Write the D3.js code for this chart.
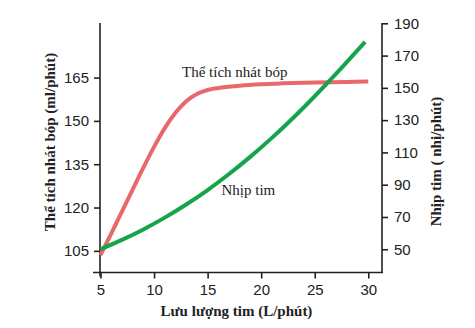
<!DOCTYPE html>
<html><head><meta charset="utf-8">
<script src="https://cdn.jsdelivr.net/npm/d3@7"></script>
<style>
html,body{margin:0;padding:0;background:#fff;}
svg{display:block;}
</style></head>
<body>
<svg id="chart" width="475" height="328"></svg>
<script>
// Data
const xTicks = [5, 10, 15, 20, 25, 30];
const leftTicks = [105, 120, 135, 150, 165];
const rightTicks = [50, 70, 90, 110, 130, 150, 170, 190];
const flowX = [5, 6, 7, 8, 9, 10, 11, 12, 13, 14, 15, 16, 18, 20, 22, 25, 28, 30];
const strokeVolume = [103.5, 111, 118.6, 126.2, 133.8, 141, 147.5, 152.8, 156.8, 159.3, 160.7, 161.4, 162.2, 162.7, 163, 163.3, 163.5, 163.6];
const hrX = [5, 7, 9, 11, 13, 15, 17, 19, 21, 23, 25, 27, 29.7];
const heartRate = [50, 55.8, 62.3, 69.6, 77.7, 86.7, 96.6, 107.4, 119, 131.5, 144.8, 158.8, 178.5];
const xTitle = "Lưu lượng tim (L/phút)";
const leftTitle = "Thể tích nhát bóp (ml/phút)";
const rightTitle = "Nhịp tim ( nhị/phút)";
const svLabel = "Thể tích nhát bóp";
const hrLabel = "Nhịp tim";

const svg = d3.select("#chart");
const axisColor = "#222";
const tickFont = "'Liberation Sans', Arial, sans-serif";
const serif = "'Liberation Serif', 'Times New Roman', serif";

const x = d3.scaleLinear().domain([5, 30]).range([100.5, 368.3]);
const yL = d3.scaleLinear().domain([97.5, 183.9]).range([272.5, 23]);
const yR = d3.scaleLinear().domain([35.6, 190]).range([272.5, 23.3]);
const axisY = 272.5, leftX = 100, rightX = 382;

function styleAxis(g) {
  g.select(".domain").remove();
  g.selectAll(".tick line").attr("stroke", axisColor).attr("stroke-width", 1.6);
  g.selectAll(".tick text").attr("fill", axisColor).style("font-family", tickFont).style("font-size", "15px");
}

// bottom axis
const gx = svg.append("g").attr("transform", `translate(0,${axisY})`)
  .call(d3.axisBottom(x).tickValues(xTicks).tickSize(6).tickPadding(6).tickFormat(d3.format("d")));
styleAxis(gx);
svg.append("line").attr("x1", 93).attr("x2", rightX + 1).attr("y1", axisY).attr("y2", axisY)
  .attr("stroke", axisColor).attr("stroke-width", 1.6);

// left axis
const gl = svg.append("g").attr("transform", `translate(${leftX},0)`)
  .call(d3.axisLeft(yL).tickValues(leftTicks).tickSize(6).tickPadding(5).tickFormat(d3.format("d")));
styleAxis(gl);
svg.append("line").attr("x1", leftX).attr("x2", leftX).attr("y1", 23).attr("y2", axisY + 4)
  .attr("stroke", axisColor).attr("stroke-width", 1.6);

// right axis
const gr = svg.append("g").attr("transform", `translate(${rightX},0)`)
  .call(d3.axisRight(yR).tickValues(rightTicks).tickSize(6).tickPadding(6).tickFormat(d3.format("d")));
styleAxis(gr);
svg.append("line").attr("x1", rightX).attr("x2", rightX).attr("y1", 23).attr("y2", axisY)
  .attr("stroke", axisColor).attr("stroke-width", 1.6);

// lines
const svData = flowX.map((d, i) => [d, strokeVolume[i]]);
const hrData = hrX.map((d, i) => [d, heartRate[i]]);
svg.append("path").datum(svData)
  .attr("d", d3.line().x(d => x(d[0])).y(d => yL(d[1])).curve(d3.curveMonotoneX))
  .attr("fill", "none").attr("stroke", "#e8686c").attr("stroke-width", 4);
svg.append("path").datum(hrData)
  .attr("d", d3.line().x(d => x(d[0])).y(d => yR(d[1])).curve(d3.curveMonotoneX))
  .attr("fill", "none").attr("stroke", "#14a54b").attr("stroke-width", 4);

// labels
svg.append("text").attr("x", 182).attr("y", 77).text(svLabel)
  .style("font-family", serif).style("font-size", "15px").attr("fill", "#222");
svg.append("text").attr("x", 221.5).attr("y", 195).text(hrLabel)
  .style("font-family", serif).style("font-size", "15px").attr("fill", "#222");

// titles
svg.append("text").attr("x", 236.5).attr("y", 316).attr("text-anchor", "middle").text(xTitle)
  .style("font-family", serif).style("font-size", "15px").style("font-weight", "bold").attr("fill", "#222");
svg.append("text").attr("transform", "translate(55,142) rotate(-90)").attr("text-anchor", "middle").text(leftTitle)
  .style("font-family", serif).style("font-size", "15px").style("font-weight", "bold").attr("fill", "#222");
svg.append("text").attr("transform", "translate(441,161.5) rotate(-90)").attr("text-anchor", "middle").text(rightTitle)
  .style("font-family", serif).style("font-size", "15px").style("font-weight", "bold").attr("fill", "#222");
</script>
</body></html>
